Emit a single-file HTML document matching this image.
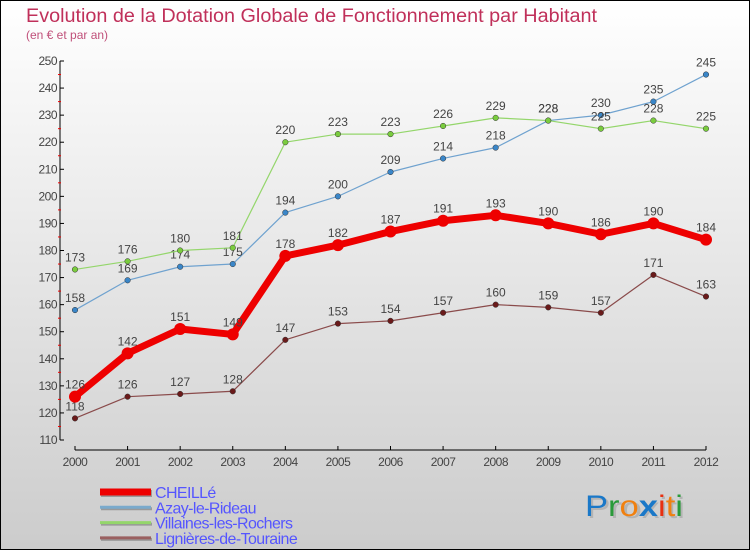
<!DOCTYPE html>
<html><head><meta charset="utf-8"><style>
body{margin:0}
svg{display:block;font-family:"Liberation Sans",sans-serif}
</style></head><body>
<svg id="c" width="750" height="550">
<defs><linearGradient id="bg" x1="0" y1="0" x2="0" y2="1"><stop offset="0" stop-color="#ffffff"/><stop offset="1" stop-color="#cccccc"/></linearGradient></defs>
<rect x="0.5" y="0.5" width="749" height="549" fill="url(#bg)" stroke="#000"/>
<text x="26" y="22" font-size="19" fill="#c0305a" textLength="571" lengthAdjust="spacingAndGlyphs">Evolution de la Dotation Globale de Fonctionnement par Habitant</text>
<text x="26" y="39" font-size="12" fill="#c0507a">(en € et par an)</text>
<g id="axes"></g><g id="series"></g><g id="legend"></g>
<g font-size="30" font-family="'Liberation Sans',sans-serif">
<text x="587" y="518" fill="#999" opacity="0.5" textLength="98" lengthAdjust="spacingAndGlyphs">Proxiti</text>
<text x="585" y="516" textLength="98" lengthAdjust="spacingAndGlyphs"><tspan fill="#1a78c8">P</tspan><tspan fill="#2a9a3a">r</tspan><tspan fill="#f08010">o</tspan><tspan fill="#1a78c8" font-weight="bold">x</tspan><tspan fill="#e83010">i</tspan><tspan fill="#f08010">t</tspan><tspan fill="#2a9a3a">i</tspan></text>
</g>
</svg>
<script>
const years=[2000,2001,2002,2003,2004,2005,2006,2007,2008,2009,2010,2011,2012];
const cheille=[126,142,151,149,178,182,187,191,193,190,186,190,184];
const azay=[158,169,174,175,194,200,209,214,218,228,230,235,245];
const villaines=[173,176,180,181,220,223,223,226,229,228,225,228,225];
const lignieres=[118,126,127,128,147,153,154,157,160,159,157,171,163];
const yTicks=[110,120,130,140,150,160,170,180,190,200,210,220,230,240,250];
const names=["CHEILLé","Azay-le-Rideau","Villaines-les-Rochers","Lignières-de-Touraine"];
const NS="http://www.w3.org/2000/svg";
const X=i=>75+i*(706-75)/(years.length-1);
const Y=v=>440-(v-110)*(440-61)/140;
function mk(p,t,a){const e=document.createElementNS(NS,t);for(const k in a)e.setAttribute(k,a[k]);p.appendChild(e);return e;}
const ax=document.getElementById('axes');
const yl=mk(ax,'line',{x1:60,y1:Y(250),x2:60,y2:Y(110),stroke:'#000'});


yTicks.forEach(v=>{
 mk(ax,'line',{x1:60,y1:Y(v),x2:64,y2:Y(v),stroke:'#000'});
 if(v<250){mk(ax,'line',{x1:58,y1:Y(v+5),x2:61,y2:Y(v+5),stroke:'#e00'});}
 const t=mk(ax,'text',{x:57,y:Y(v)+4,'text-anchor':'end','font-size':12,fill:'#444','letter-spacing':'-0.5'});t.textContent=v;
 
 
});
const xl=mk(ax,'line',{x1:75,y1:450,x2:706,y2:450,stroke:'#000'});


years.forEach((yr,i)=>{
 mk(ax,'line',{x1:X(i),y1:446,x2:X(i),y2:450,stroke:'#000'});
 const t=mk(ax,'text',{x:X(i),y:466,'text-anchor':'middle','font-size':12,fill:'#444','letter-spacing':'-0.5'});t.textContent=yr;
 
 
});
const sg=document.getElementById('series');
const defs=[[azay,'#6fa2cf','#3a86c8',1.2,2.8,'azay'],[villaines,'#94d66b','#7acc3e',1.2,2.8,'villaines'],[lignieres,'#8a4b4b','#6a1a1a',1.2,2.8,'lignieres'],[cheille,'#ee0000','#ee0000',7,6,'cheille']];
defs.forEach(([d,lc,pc,w,r,n])=>{
 const g=mk(sg,'g',{});
 
 
 mk(g,'polyline',{points:d.map((v,i)=>X(i)+','+Y(v)).join(' '),fill:'none',stroke:lc,'stroke-width':w,'stroke-linejoin':'round'});
 d.forEach((v,i)=>{
  const c=mk(g,'circle',{cx:X(i),cy:Y(v),r:r,fill:pc,stroke:w>2?'none':'#333','stroke-width':0.5});
  
  
  const t=mk(g,'text',{x:X(i),y:Y(v)-8,'text-anchor':'middle','font-size':12,fill:'#444'});t.textContent=v;
  
  
 });
});
const lg=document.getElementById('legend');
const lcol=['#ee0000','#7aaacc','#94d66b','#9a6060'],lw=[7,3,3,3];
names.forEach((n,i)=>{
 const y=492+i*15.3;
 const g=mk(lg,'g',{});
 
 
 mk(g,'line',{x1:101,y1:y+1.5,x2:152,y2:y+1.5,stroke:'#999','stroke-width':lw[i]});
 mk(g,'line',{x1:100,y1:y,x2:151,y2:y,stroke:lcol[i],'stroke-width':lw[i]});
 const t=mk(g,'text',{x:155,y:y+6,'font-size':16,fill:'#5555ff','letter-spacing':'-0.6'});t.textContent=n;
});
</script>
</body></html>
